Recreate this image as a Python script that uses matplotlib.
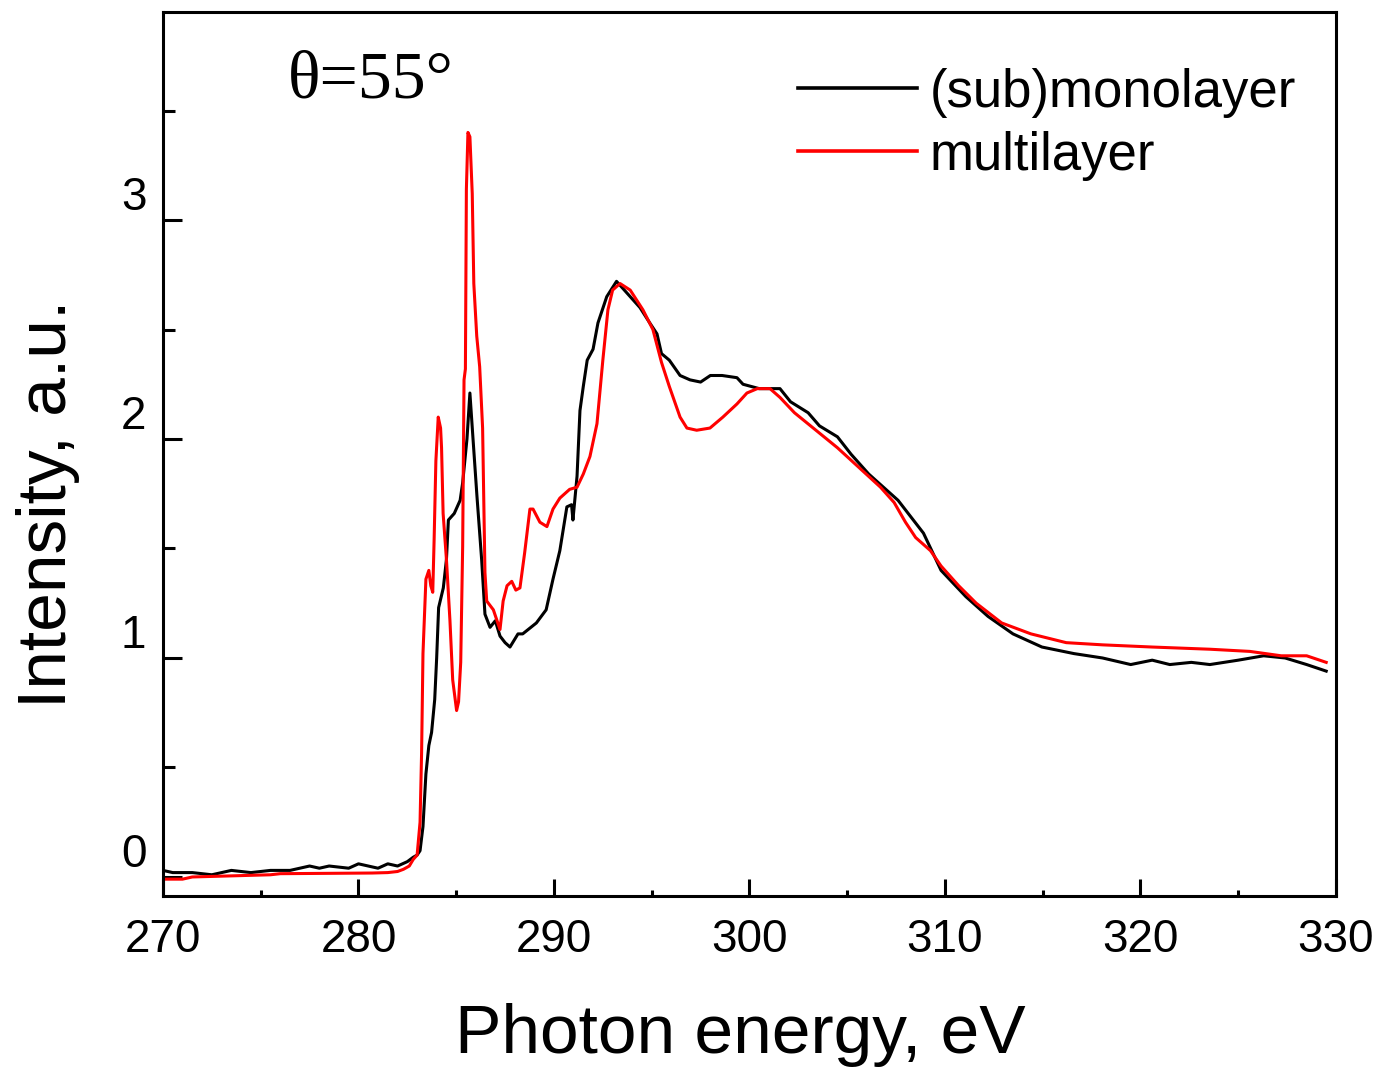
import numpy as np
import matplotlib
matplotlib.use("Agg")
import matplotlib.pyplot as plt
import matplotlib.transforms as mtransforms
from matplotlib.ticker import MultipleLocator

# (sub)monolayer spectrum
mono_e = [270.0, 270.5, 271.5, 272.5, 273.5, 274.5, 275.5, 276.5, 277.5, 278.0,
          278.5, 279.5, 280.0, 280.5, 281.0, 281.5, 282.0, 282.5, 282.8, 283.0,
          283.15, 283.3, 283.45, 283.6, 283.74, 283.9, 284.0, 284.1, 284.34, 284.5,
          284.6, 284.9, 285.2, 285.33, 285.55, 285.7, 285.86, 286.06, 286.3, 286.47,
          286.73, 287.0, 287.24, 287.5, 287.75, 288.16, 288.4, 289.1, 289.6, 289.95,
          290.3, 290.66, 290.9, 290.97, 291.18, 291.33, 291.5, 291.7, 292.0, 292.25,
          292.7, 293.2, 293.7, 294.4, 294.9, 295.27, 295.5, 295.9, 296.45, 296.96,
          297.5, 298.0, 298.6, 299.36, 299.67, 300.5, 301.56, 302.1, 303.0, 303.58,
          304.5, 305.2, 306.1, 307.6, 308.9, 309.8, 311.07, 312.2, 313.48, 314.96,
          316.6, 318.06, 319.5, 320.6, 321.5, 322.6, 323.55, 325.0, 326.3, 327.4,
          328.5, 329.5]
mono_i = [0.03, 0.02, 0.02, 0.01, 0.03, 0.02, 0.03, 0.03, 0.05, 0.04,
          0.05, 0.04, 0.06, 0.05, 0.04, 0.06, 0.05, 0.07, 0.09, 0.10,
          0.12, 0.23, 0.47, 0.60, 0.66, 0.81, 1.00, 1.23, 1.32, 1.45,
          1.63, 1.66, 1.72, 1.80, 2.00, 2.21, 2.00, 1.74, 1.45, 1.20,
          1.14, 1.17, 1.10, 1.07, 1.05, 1.11, 1.11, 1.16, 1.22, 1.36,
          1.49, 1.69, 1.70, 1.63, 1.83, 2.13, 2.24, 2.36, 2.41, 2.53,
          2.65, 2.72, 2.67, 2.60, 2.53, 2.48, 2.39, 2.36, 2.29, 2.27,
          2.26, 2.29, 2.29, 2.28, 2.25, 2.23, 2.23, 2.17, 2.12, 2.06,
          2.01, 1.93, 1.84, 1.72, 1.57, 1.40, 1.28, 1.19, 1.11, 1.05,
          1.02, 1.00, 0.97, 0.99, 0.97, 0.98, 0.97, 0.99, 1.01, 1.00,
          0.97, 0.94]

# multilayer spectrum
multi_e = [270.0, 271.0, 271.5, 275.5, 276.0, 280.7, 281.5, 282.0, 282.3, 282.6,
           282.8, 283.0, 283.15, 283.23, 283.3, 283.45, 283.6, 283.7, 283.8, 283.87,
           283.96, 284.08, 284.2, 284.25, 284.33, 284.5, 284.68, 284.82, 285.02, 285.12,
           285.23, 285.33, 285.4, 285.47, 285.52, 285.6, 285.7, 285.82, 285.9, 286.05,
           286.2, 286.35, 286.47, 286.56, 286.9, 287.24, 287.4, 287.6, 287.84, 288.05,
           288.26, 288.5, 288.77, 288.93, 289.28, 289.64, 289.95, 290.3, 290.8, 291.18,
           291.5, 291.84, 292.2, 292.5, 292.76, 293.0, 293.38, 293.9, 294.55, 295.06,
           295.5, 295.9, 296.45, 296.8, 297.3, 297.98, 298.64, 299.36, 299.87, 300.4,
           301.05, 301.56, 302.3, 303.4, 304.5, 305.6, 306.7, 307.4, 307.98, 308.5,
           309.26, 309.8, 310.7, 311.6, 312.9, 314.4, 316.2, 318.06, 320.6, 323.55,
           325.6, 327.2, 328.5, 329.5]
multi_i = [-0.01, -0.01, 0.0, 0.01, 0.015, 0.018, 0.02, 0.025, 0.035, 0.05,
           0.08, 0.10, 0.25, 0.57, 1.02, 1.36, 1.40, 1.33, 1.30, 1.54,
           1.90, 2.10, 2.05, 1.96, 1.66, 1.45, 1.17, 0.90, 0.76, 0.80,
           0.98, 1.51, 2.27, 2.32, 3.14, 3.40, 3.38, 3.12, 2.71, 2.47,
           2.33, 2.05, 1.39, 1.26, 1.22, 1.13, 1.26, 1.33, 1.35, 1.31,
           1.32, 1.48, 1.68, 1.68, 1.62, 1.60, 1.68, 1.73, 1.77, 1.78,
           1.84, 1.92, 2.07, 2.36, 2.59, 2.68, 2.71, 2.68, 2.59, 2.50,
           2.35, 2.24, 2.10, 2.05, 2.04, 2.05, 2.10, 2.16, 2.21, 2.23,
           2.23, 2.19, 2.12, 2.04, 1.96, 1.87, 1.78, 1.71, 1.62, 1.55,
           1.49, 1.42, 1.33, 1.25, 1.16, 1.11, 1.07, 1.06, 1.05, 1.04,
           1.03, 1.01, 1.01, 0.98]

x_ticks = [270, 280, 290, 300, 310, 320, 330]
y_ticks = [0, 1, 2, 3]

plt.rcParams['font.family'] = ['Liberation Sans', 'DejaVu Sans']

fig = plt.figure(figsize=(13.81, 10.70), dpi=100)
ax = fig.add_axes([0.118, 0.1626, 0.8494, 0.8262])

ax.plot(mono_e, mono_i, color='black', lw=2.2, label='(sub)monolayer')
ax.plot(multi_e, multi_i, color='#ff0000', lw=2.2, label='multilayer')

ax.set_xlim(270, 330)
ax.set_ylim(-0.087, 3.95)
ax.set_xticks(x_ticks)
ax.set_yticks(y_ticks)
ax.xaxis.set_minor_locator(MultipleLocator(5))
ax.yaxis.set_minor_locator(MultipleLocator(0.5))

for s in ax.spines.values():
    s.set_linewidth(2.2)

ax.tick_params(axis='both', which='both', direction='in', width=2.2,
               top=False, right=False, labelsize=33)
ax.tick_params(axis='x', which='major', length=12, pad=16)
ax.tick_params(axis='x', which='minor', length=4.5)
ax.tick_params(axis='y', which='major', length=13.5, pad=12)
ax.tick_params(axis='y', which='minor', length=8.5)

# y labels sit a little above their ticks in the original
shift = mtransforms.ScaledTranslation(0, 0.27, fig.dpi_scale_trans)
for lab in ax.get_yticklabels():
    lab.set_transform(lab.get_transform() + shift)

ax.set_xlabel('Photon energy, eV', fontsize=50)
ax.xaxis.set_label_coords(0.4923, -0.121)
ax.set_ylabel('Intensity, a.u.', fontsize=50)
ax.yaxis.set_label_coords(-0.0708, 0.444)

leg = ax.legend(loc='upper right', bbox_to_anchor=(0.984, 0.961), frameon=False,
                fontsize=38, handlelength=2.25, handletextpad=0.25,
                labelspacing=0.25, borderaxespad=0.0)
for h in leg.get_lines():
    h.set_linewidth(2.6)

fig.text(288 / 1381, 1 - 97 / 1070, 'θ=55°', fontsize=49,
         family=['Liberation Serif', 'DejaVu Serif'], va='baseline', ha='left')

fig.savefig('out.png', dpi=100)
